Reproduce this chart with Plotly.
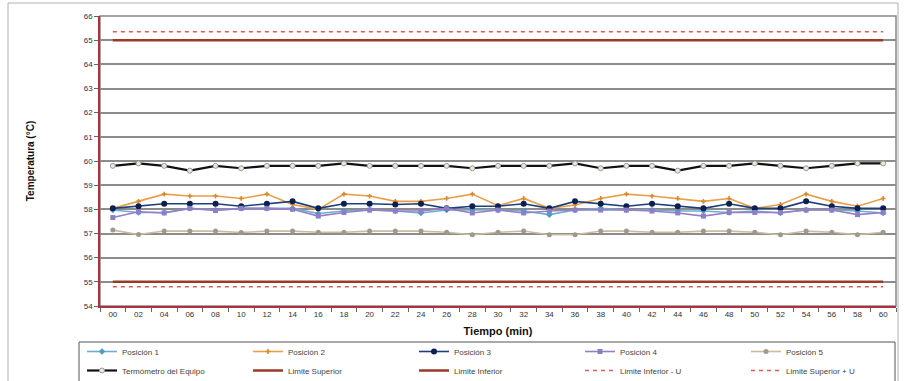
import plotly.graph_objects as go

tiempo = ["00", "02", "04", "06", "08", "10", "12", "14", "16", "18", "20",
          "22", "24", "26", "28", "30", "32", "34", "36", "38", "40",
          "42", "44", "46", "48", "50", "52", "54", "56", "58", "60"]

posicion_1 = [57.97, 57.87, 57.87, 58.04, 57.97, 58.04, 58.04, 58.04, 57.83, 57.93, 57.97,
              57.93, 57.85, 57.97, 57.97, 57.97, 57.93, 57.78, 57.97, 58.04, 57.97,
              57.97, 57.93, 57.93, 57.87, 57.93, 57.85, 57.97, 57.97, 57.93, 57.85]
posicion_2 = [58.04, 58.33, 58.63, 58.55, 58.55, 58.45, 58.63, 58.2, 58.0, 58.63, 58.55,
              58.33, 58.33, 58.45, 58.63, 58.15, 58.45, 58.04, 58.18, 58.45, 58.63,
              58.55, 58.45, 58.33, 58.45, 58.04, 58.2, 58.63, 58.33, 58.13, 58.45]
posicion_3 = [58.04, 58.13, 58.23, 58.23, 58.23, 58.13, 58.23, 58.33, 58.04, 58.23, 58.23,
              58.2, 58.23, 58.04, 58.13, 58.13, 58.23, 58.04, 58.33, 58.23, 58.13,
              58.23, 58.13, 58.04, 58.23, 58.04, 58.04, 58.33, 58.13, 58.04, 58.04]
posicion_4 = [57.66, 57.9, 57.85, 58.04, 57.95, 58.04, 58.04, 58.0, 57.72, 57.87, 57.97,
              57.93, 57.93, 58.04, 57.85, 57.97, 57.85, 57.93, 57.97, 57.97, 57.97,
              57.93, 57.85, 57.72, 57.87, 57.87, 57.87, 57.97, 57.97, 57.78, 57.87]
posicion_5 = [57.14, 56.96, 57.1, 57.1, 57.1, 57.04, 57.1, 57.1, 57.05, 57.05, 57.1,
              57.1, 57.1, 57.05, 56.95, 57.05, 57.1, 56.95, 56.95, 57.1, 57.1,
              57.05, 57.05, 57.1, 57.1, 57.05, 56.95, 57.1, 57.05, 56.95, 57.05]
termometro = [59.8, 59.9, 59.8, 59.6, 59.8, 59.7, 59.8, 59.8, 59.8, 59.9, 59.8,
              59.8, 59.8, 59.8, 59.7, 59.8, 59.8, 59.8, 59.9, 59.7, 59.8,
              59.8, 59.6, 59.8, 59.8, 59.9, 59.8, 59.7, 59.8, 59.9, 59.9]

limite_superior = 65.0
limite_inferior = 55.0
limite_inferior_menos_u = 54.8
limite_superior_mas_u = 65.35

n = len(tiempo)
series = [
    ("Posición 1", posicion_1, dict(color="#6aaed0", width=1.6), dict(symbol="diamond", size=5, color="#4f9cc4")),
    ("Posición 2", posicion_2, dict(color="#e8a048", width=1.6), dict(symbol="cross", size=4, color="#d88a30")),
    ("Posición 3", posicion_3, dict(color="#1f3f78", width=1.6), dict(symbol="circle", size=6, color="#0d1f4f")),
    ("Posición 4", posicion_4, dict(color="#9a7cc8", width=1.6), dict(symbol="square", size=5, color="#8a80c8")),
    ("Posición 5", posicion_5, dict(color="#cbbd9c", width=1.6), dict(symbol="circle", size=5, color="#9c9a90")),
    ("Termómetro del Equipo", termometro, dict(color="#111111", width=2.2), dict(symbol="circle", size=5, color="#e8e8e0", line=dict(color="#9a9a90", width=1))),
]

fig = go.Figure()
for name, vals, line, marker in series:
    fig.add_trace(go.Scatter(x=tiempo, y=vals, name=name, mode="lines+markers", line=line, marker=marker))

limits = [
    ("Limite Superior", limite_superior, dict(color="#9b3a26", width=2.5)),
    ("Limite Inferior", limite_inferior, dict(color="#9b3a26", width=2.5)),
    ("Limite Inferior - U", limite_inferior_menos_u, dict(color="#e05a5a", width=1.5, dash="4px,4px")),
    ("Limite Superior + U", limite_superior_mas_u, dict(color="#e05a5a", width=1.5, dash="4px,4px")),
]
for name, v, line in limits:
    fig.add_trace(go.Scatter(x=tiempo, y=[v] * n, name=name, mode="lines", line=line))

PL, PR, PT, PB = 100, 896, 16, 306
def px(x):
    return (x - PL) / (PR - PL)
def py(y):
    return (PB - y) / (PB - PT)

fig.update_layout(
    width=904, height=381,
    margin=dict(l=PL, r=904 - PR, t=PT, b=381 - PB, autoexpand=False),
    paper_bgcolor="white", plot_bgcolor="white",
    font=dict(family="Liberation Sans, Arial, sans-serif", size=8, color="#333333"),
    showlegend=True,
    legend=dict(
        orientation="h", x=px(82), xanchor="left", y=py(337), yanchor="top",
        entrywidth=121, entrywidthmode="pixels",
        borderwidth=0, bgcolor="rgba(0,0,0,0)",
        font=dict(size=8, color="#444444"), tracegroupgap=0, itemwidth=30,
    ),
    xaxis=dict(
        type="category", range=[-0.5, n - 0.5], automargin=False,
        tickson="boundaries", ticks="outside", ticklen=4, tickcolor="#666666",
        showgrid=False, showline=True, linecolor="#b03040", linewidth=1.5,
        tickfont=dict(size=8, color="#333333"),
        title=dict(text="<b>Tiempo (min)</b>", font=dict(size=11, color="#111111"), standoff=9),
    ),
    yaxis=dict(
        range=[54, 66], dtick=1, tick0=54, automargin=False,
        ticks="outside", ticklen=4, tickcolor="#666666",
        showgrid=True, gridcolor="#8c8c8c", gridwidth=2,
        showline=True, linecolor="#b03040", linewidth=1.5,
        tickfont=dict(size=8, color="#333333"), zeroline=False,
        title=dict(text="<b>Temperatura (°C)</b>", font=dict(size=10, color="#111111"), standoff=47),
    ),
    shapes=[
        dict(type="rect", xref="paper", yref="paper", x0=0, x1=1, y0=0, y1=1,
             line=dict(color="#888888", width=1.5), layer="below"),
        dict(type="rect", xref="paper", yref="paper",
             x0=px(8), x1=px(898), y0=py(390), y1=py(3),
             line=dict(color="#b0b0b0", width=1), layer="below"),
        dict(type="rect", xref="paper", yref="paper",
             x0=px(79), x1=px(895), y0=py(390), y1=py(342),
             line=dict(color="#555555", width=1), layer="below"),
    ],
)

fig.write_html("out.html", config={"displayModeBar": False},
               post_script="document.body.style.margin='0px';document.body.style.overflow='hidden';")
